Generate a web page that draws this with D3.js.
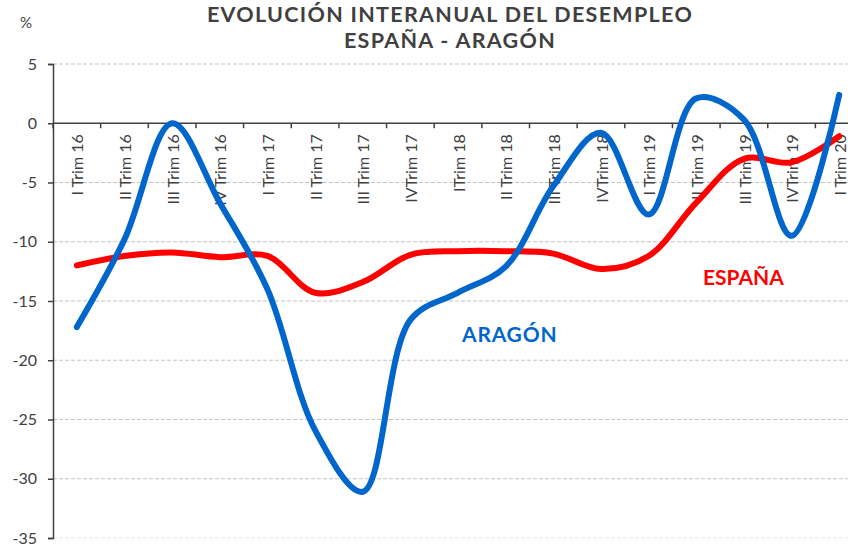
<!DOCTYPE html>
<html><head><meta charset="utf-8">
<script src="https://cdn.jsdelivr.net/npm/d3@7"></script>
<style>
html,body{margin:0;padding:0;background:#fff;}
svg{display:block;font-family:Lato, "Open Sans", sans-serif;}
</style></head>
<body>
<svg id="c" width="848" height="550"></svg>
<script>
const categories = ["I Trim 16","II Trim 16","III Trim 16","IV Trim 16","I Trim 17","II Trim 17","III Trim 17","IVTrim 17","ITrim 18","II Trim 18","III Trim 18","IVTrim 18","I Trim 19","II Trim 19","III Trim 19","IVTrim 19","I Trim 20"];
const espana = [-12.0,-11.2,-10.9,-11.3,-11.2,-14.3,-13.4,-11.1,-10.8,-10.8,-11.0,-12.3,-11.2,-6.7,-3.0,-3.3,-1.1];
const aragon = [-17.2,-9.8,0.0,-6.7,-14.0,-25.9,-31.1,-16.6,-14.3,-12.1,-5.3,-0.8,-7.7,2.1,0.3,-9.5,2.4];
const yTicks = [5,0,-5,-10,-15,-20,-25,-30,-35];
const titleLines = ["EVOLUCIÓN INTERANUAL DEL DESEMPLEO","ESPAÑA - ARAGÓN"];

const svg = d3.select("#c");
const x0 = 53, bw = 47.65;
const x = d3.scaleBand().domain(categories).range([x0, x0 + bw*categories.length]).paddingInner(0).paddingOuter(0);
const y = d3.scaleLinear().domain([-35,5]).range([538,64]);
const cx = d => x(d) + x.bandwidth()/2;
const axisCol = "#404040";

// gridlines
svg.append("g").selectAll("line").data(yTicks.filter(v=>v!==0)).join("line")
  .attr("x1", x0).attr("x2", 848).attr("y1", d=>y(d)).attr("y2", d=>y(d))
  .attr("stroke", d=> d===-35 ? "#e6e6e6" : "#c4c4c4").attr("stroke-width",1.2)
  .attr("stroke-dasharray","4,2");

// y axis
const yAxis = d3.axisLeft(y).tickValues(yTicks).tickSize(5).tickPadding(11).tickFormat(d => String(d));
const gy = svg.append("g").attr("transform",`translate(${x0},0)`).call(yAxis);
gy.select(".domain").attr("stroke",axisCol).attr("stroke-width",1.5);
gy.selectAll(".tick line").attr("stroke",axisCol).attr("stroke-width",1.5);
gy.selectAll(".tick text").attr("fill",axisCol).style("font-size","16px").style("font-family","Lato");

// x axis at zero
const boundaries = d3.range(categories.length+1).map(i => x0 + i*bw);
svg.append("line").attr("x1",x0).attr("x2",848).attr("y1",y(0)).attr("y2",y(0))
  .attr("stroke",axisCol).attr("stroke-width",1.5);
svg.append("g").selectAll("line").data(boundaries).join("line")
  .attr("x1",d=>d).attr("x2",d=>d).attr("y1",y(0)).attr("y2",y(0)+5)
  .attr("stroke",axisCol).attr("stroke-width",1.5);

// category labels
svg.append("g").selectAll("text").data(categories).join("text")
  .attr("transform", d=>`translate(${cx(d)+1},${y(0)+11}) rotate(-90)`)
  .attr("text-anchor","end").attr("dy","0.35em")
  .attr("fill",axisCol).style("font-size","16px").text(d=>d);

// lines
const line = d3.line().x((d,i)=>cx(categories[i])).y(d=>y(d)).curve(d3.curveCatmullRom.alpha(0.5));
svg.append("path").datum(espana).attr("d",line).attr("fill","none")
  .attr("stroke","#ff0000").attr("stroke-width",6).attr("stroke-linecap","round").attr("stroke-linejoin","round");
svg.append("path").datum(aragon).attr("d",line).attr("fill","none")
  .attr("stroke","#0066cc").attr("stroke-width",6).attr("stroke-linecap","round").attr("stroke-linejoin","round");

// series labels
svg.append("text").attr("x",703).attr("y",285).attr("fill","#ff0000")
  .style("font-size","21px").style("font-weight","bold").text("ESPAÑA");
svg.append("text").attr("x",462).attr("y",342).attr("fill","#0066cc")
  .style("font-size","21px").style("font-weight","bold").style("letter-spacing","0.8px").text("ARAGÓN");

// title
svg.append("g").selectAll("text").data(titleLines).join("text")
  .attr("x",450).attr("y",(d,i)=>22+i*26).attr("text-anchor","middle")
  .attr("fill","#404040").style("font-size","21.5px").style("font-weight","bold")
  .style("letter-spacing","1.3px").text(d=>d);

// unit
svg.append("text").attr("x",20).attr("y",28).attr("fill","#404040").style("font-size","15px").text("%");
</script>
</body></html>
